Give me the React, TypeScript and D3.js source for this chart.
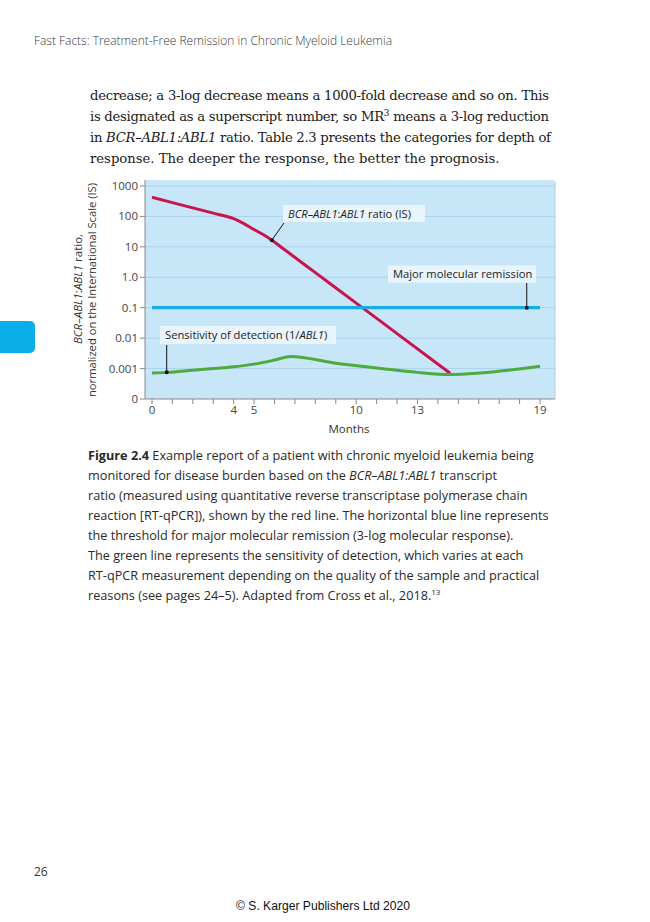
import React from "react";
import * as d3 from "d3";

// ---- data ----
const yTickValues = [1000, 100, 10, 1, 0.1, 0.01, 0.001, 0.0001];
const yTickLabels = ["1000", "100", "10", "1.0", "0.1", "0.01", "0.001", "0"];
const xMonths = d3.range(0, 20);
const xTickLabelMonths = [0, 4, 5, 10, 13, 19];

const redMonths = [0, 1, 2, 3, 4, 4.5, 5, 5.5, 5.87, 6.5, 8, 10, 12, 14.6];
const redValues = [425, 285, 191, 128, 84, 58, 37, 24, 16.6, 8.0, 1.42, 0.142, 0.0141, 0.0007];

const greenMonths = [0, 0.72, 2, 3, 4, 5, 6, 6.8, 9, 11, 13, 14.6, 19];
const greenValues = [0.00072, 0.00075, 0.00088, 0.001, 0.00115, 0.0014, 0.0019, 0.0025, 0.0015, 0.00105, 0.00075, 0.00064, 0.0012];

const blueMonths = [0, 19];
const blueValues = [0.1, 0.1];

const bodyLines = [
  "decrease; a 3-log decrease means a 1000-fold decrease and so on. This",
  "is designated as a superscript number, so MR",
  "in ",
  "response. The deeper the response, the better the prognosis.",
];

const captionLines = [
  "Example report of a patient with chronic myeloid leukemia being",
  "monitored for disease burden based on the ",
  "ratio (measured using quantitative reverse transcriptase polymerase chain",
  "reaction [RT-qPCR]), shown by the red line. The horizontal blue line represents",
  "the threshold for major molecular remission (3-log molecular response).",
  "The green line represents the sensitivity of detection, which varies at each",
  "RT-qPCR measurement depending on the quality of the sample and practical",
  "reasons (see pages 24–5). Adapted from Cross et al., 2018.",
];

export default function App() {
  const x = d3.scaleLinear().domain([0, 19]).range([152, 540]);
  const y = d3.scaleLog().domain([0.0001, 1000]).range([399, 186]);

  const mk = () =>
    d3
      .line<[number, number]>()
      .x((d) => x(d[0]))
      .y((d) => y(d[1]));
  const redPath = mk().curve(d3.curveMonotoneX)(redMonths.map((m, i) => [m, redValues[i]]));
  const greenPath = mk().curve(d3.curveMonotoneX)(greenMonths.map((m, i) => [m, greenValues[i]]));
  const bluePath = mk()(blueMonths.map((m, i) => [m, blueValues[i]]));

  const plotL = 145,
    plotR = 555,
    plotT = 180,
    plotB = 399;

  const sans = "'Open Sans', 'Noto Sans', sans-serif";
  const serif = "'DejaVu Serif', 'Liberation Serif', serif";

  // annotation anchors (data space)
  const redDot: [number, number] = [5.87, 16.6];
  const greenDot: [number, number] = [0.72, 0.00075];
  const blueDot: [number, number] = [18.35, 0.1];

  return (
    <svg
      width={650}
      height={922}
      style={{ position: "absolute", left: 0, top: 0, background: "#fff" }}
    >
      {/* header */}
      <text x={34} y={45} fontFamily={sans} fontSize={12} fontWeight={300} fill="#3a3a3a" textLength={358} lengthAdjust="spacingAndGlyphs">
        Fast Facts: Treatment-Free Remission in Chronic Myeloid Leukemia
      </text>

      {/* body text */}
      <g fontFamily={serif} fontSize={13.2} fill="#1a1a1a">
        <text x={90} y={100} textLength={459} lengthAdjust="spacing">{bodyLines[0]}</text>
        <text x={90} y={121} textLength={459} lengthAdjust="spacing">
          {bodyLines[1]}
          <tspan fontSize={9} baselineShift="super">3</tspan> means a 3-log reduction
        </text>
        <text x={90} y={142} textLength={461} lengthAdjust="spacing">
          {bodyLines[2]}
          <tspan fontStyle="italic">BCR–ABL1:ABL1</tspan> ratio. Table 2.3 presents the categories for depth of
        </text>
        <text x={90} y={163}>{bodyLines[3]}</text>
      </g>

      {/* blue side tab */}
      <rect x={-10} y={321} width={45} height={32} rx={5} fill="#0AAEE8" />

      {/* plot background */}
      <rect x={plotL} y={plotT} width={plotR - plotL} height={plotB - plotT} rx={2} fill="#C7E6F8" />
      <line x1={plotR} x2={plotR} y1={plotT + 2} y2={plotB} stroke="#ADD0E6" strokeWidth={1} />

      {/* gridlines and y ticks */}
      {yTickValues.map((v, i) => (
        <g key={i}>
          {i < yTickValues.length - 1 && (
            <line x1={plotL} x2={plotR} y1={y(v)} y2={y(v)} stroke="#A5CEE8" strokeWidth={0.8} />
          )}
          <line x1={plotL - 5} x2={plotL} y1={y(v)} y2={y(v)} stroke="#8a8a8a" strokeWidth={1} />
          <text x={plotL - 7} y={y(v)} dy="0.35em" textAnchor="end" fontFamily={sans} fontSize={11.5} fill="#444">
            {yTickLabels[i]}
          </text>
        </g>
      ))}

      {/* axes */}
      <line x1={plotL} x2={plotL} y1={plotT} y2={plotB} stroke="#8a8a8a" strokeWidth={1} />
      <line x1={plotL} x2={plotR} y1={plotB} y2={plotB} stroke="#8a8a8a" strokeWidth={1} />
      {xMonths.map((m) => (
        <line key={m} x1={x(m)} x2={x(m)} y1={plotB} y2={plotB + 5} stroke="#8a8a8a" strokeWidth={1} />
      ))}
      {xTickLabelMonths.map((m) => (
        <text key={m} x={x(m)} y={414} textAnchor="middle" fontFamily={sans} fontSize={11.5} fill="#444">
          {m}
        </text>
      ))}
      <text x={349} y={433} textAnchor="middle" fontFamily={sans} fontSize={11.5} fill="#333">
        Months
      </text>

      {/* y axis title */}
      <g fontFamily={sans} fontSize={11.5} fill="#333">
        <text transform={`translate(82,289) rotate(-90)`} textAnchor="middle">
          <tspan fontStyle="italic">BCR–ABL1</tspan>:<tspan fontStyle="italic">ABL1</tspan> ratio,
        </text>
        <text transform={`translate(96,290) rotate(-90)`} textAnchor="middle" textLength={214} lengthAdjust="spacingAndGlyphs">
          normalized on the International Scale (IS)
        </text>
      </g>

      {/* lines */}
      <path d={redPath || ""} fill="none" stroke="#C8154B" strokeWidth={3} strokeLinejoin="round" />
      <path d={bluePath || ""} fill="none" stroke="#18ACE4" strokeWidth={3.2} />
      <path d={greenPath || ""} fill="none" stroke="#4DAB3E" strokeWidth={3} strokeLinejoin="round" />

      {/* annotations */}
      <g fontFamily={sans} fontSize={11.2} fill="#222">
        {/* red */}
        <line x1={x(redDot[0])} y1={y(redDot[1])} x2={284} y2={223} stroke="#111" strokeWidth={1} />
        <circle cx={x(redDot[0])} cy={y(redDot[1])} r={2} fill="#111" />
        <rect x={283} y={205} width={142} height={17} fill="#E8F5FD" />
        <text x={288} y={218}>
          <tspan fontStyle="italic">BCR–ABL1</tspan>:<tspan fontStyle="italic">ABL1</tspan> ratio (IS)
        </text>
        {/* blue */}
        <line x1={x(blueDot[0])} y1={y(blueDot[1])} x2={x(blueDot[0])} y2={283} stroke="#111" strokeWidth={1} />
        <circle cx={x(blueDot[0])} cy={y(blueDot[1])} r={2} fill="#111" />
        <rect x={388} y={265.5} width={148} height={17} fill="#E8F5FD" />
        <text x={393} y={278}>Major molecular remission</text>
        {/* green */}
        <line x1={x(greenDot[0])} y1={y(greenDot[1])} x2={x(greenDot[0])} y2={345} stroke="#111" strokeWidth={1} />
        <circle cx={x(greenDot[0])} cy={y(greenDot[1])} r={2} fill="#111" />
        <rect x={160} y={326} width={176} height={18} fill="#E8F5FD" />
        <text x={165} y={339}>
          Sensitivity of detection (1/<tspan fontStyle="italic">ABL1</tspan>)
        </text>
      </g>

      {/* caption */}
      <g fontFamily={sans} fontSize={12.7} fill="#2a2a2a">
        {captionLines.map((t, i) => {
          const yy = 460 + i * 20;
          if (i === 0)
            return (
              <text key={i} x={88} y={yy}>
                <tspan fontWeight={700}>Figure 2.4</tspan> {t}
              </text>
            );
          if (i === 1)
            return (
              <text key={i} x={88} y={yy}>
                {t}
                <tspan fontStyle="italic">BCR–ABL1:ABL1</tspan> transcript
              </text>
            );
          if (i === 7)
            return (
              <text key={i} x={88} y={yy}>
                {t}
                <tspan fontSize={8} dy={-5}>13</tspan>
              </text>
            );
          return (
            <text key={i} x={88} y={yy}>
              {t}
            </text>
          );
        })}
      </g>

      {/* footer */}
      <text x={34} y={876} fontFamily={sans} fontSize={12} fill="#333">26</text>
      <text x={236} y={910} fontFamily="'Liberation Sans', Arial, sans-serif" fontSize={12.5} fill="#111" textLength={174} lengthAdjust="spacingAndGlyphs">
        © S. Karger Publishers Ltd 2020
      </text>
    </svg>
  );
}
